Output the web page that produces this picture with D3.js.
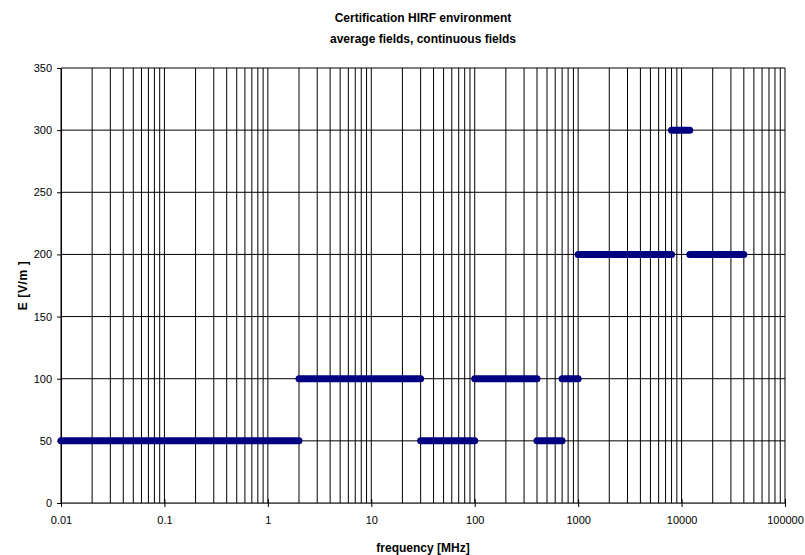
<!DOCTYPE html>
<html>
<head>
<meta charset="utf-8">
<script src="https://cdn.jsdelivr.net/npm/d3@7"></script>
<style>
  body { margin: 0; background: #fff; }
  text { font-family: "Liberation Sans", Arial, sans-serif; }
</style>
</head>
<body>
<div id="chart"></div>
<script>
// HIRF field levels: each band runs from fStart to fEnd (MHz) at level E (V/m)
const fStart = [0.01, 2, 30, 100, 400, 700, 1000, 8000, 12000];
const fEnd   = [2, 30, 100, 400, 700, 1000, 8000, 12000, 40000];
const fieldE = [50, 100, 50, 100, 50, 100, 200, 300, 200];

const xTicks = [0.01, 0.1, 1, 10, 100, 1000, 10000, 100000];
const yTicks = [0, 50, 100, 150, 200, 250, 300, 350];

const drawChart = (element) => {
    const width = 805, height = 555;
    const margin = {top: 68, right: 20, bottom: 52, left: 61};

    const svg = d3.select(element).append("svg")
        .attr("width", width)
        .attr("height", height);

    const x = d3.scaleLog().domain([0.01, 100000]).range([margin.left, 785]);
    const y = d3.scaleLinear().domain([0, 350]).range([503, margin.top]);

    // vertical grid at every 1..9 x decade
    const minor = [];
    for (let e = -2; e < 5; e++) {
        for (let k = 1; k < 10; k++) minor.push(k * Math.pow(10, e));
    }
    minor.push(100000);

    svg.append("g").selectAll("line").data(minor).join("line")
        .attr("x1", d => x(d)).attr("x2", d => x(d))
        .attr("y1", y(350)).attr("y2", y(0))
        .attr("stroke", "#000").attr("stroke-width", 1);

    svg.append("g").selectAll("line").data(yTicks).join("line")
        .attr("x1", x(0.01)).attr("x2", x(100000))
        .attr("y1", d => y(d)).attr("y2", d => y(d))
        .attr("stroke", "#000").attr("stroke-width", 1);

    // axes
    svg.append("g")
        .attr("transform", `translate(0,${y(0)})`)
        .call(d3.axisBottom(x).tickValues(xTicks).tickFormat(d => String(d)).tickSizeInner(4).tickSizeOuter(0).tickPadding(9))
        .call(g => g.select(".domain").attr("stroke", "#555"))
        .call(g => g.selectAll(".tick line").attr("y1", -4))
        .call(g => g.selectAll("text").attr("font-size", 11).attr("fill", "#000")
            .attr("font-family", "'Liberation Sans', Arial, sans-serif"));

    svg.append("g")
        .attr("transform", `translate(${x(0.01)},0)`)
        .call(d3.axisLeft(y).tickValues(yTicks).tickSizeInner(4).tickSizeOuter(0).tickPadding(5))
        .call(g => g.select(".domain").attr("stroke", "#000"))
        .call(g => g.selectAll("text").attr("font-size", 11).attr("fill", "#000")
            .attr("font-family", "'Liberation Sans', Arial, sans-serif"));

    // bands
    svg.append("g").selectAll("line").data(fieldE).join("line")
        .attr("x1", (d, i) => x(fStart[i]))
        .attr("x2", (d, i) => x(fEnd[i]))
        .attr("y1", d => y(d)).attr("y2", d => y(d))
        .attr("stroke", "#000080")
        .attr("stroke-width", 7)
        .attr("stroke-linecap", "round");

    // titles
    const cx = (x(0.01) + x(100000)) / 2;
    svg.append("text").attr("x", cx).attr("y", 22)
        .attr("text-anchor", "middle").attr("font-size", 12).attr("font-weight", "bold")
        .text("Certification HIRF environment");
    svg.append("text").attr("x", cx).attr("y", 43)
        .attr("text-anchor", "middle").attr("font-size", 12).attr("font-weight", "bold")
        .text("average fields, continuous fields");
    svg.append("text").attr("x", cx).attr("y", 552)
        .attr("text-anchor", "middle").attr("font-size", 12).attr("font-weight", "bold")
        .text("frequency [MHz]");
    svg.append("text")
        .attr("transform", `translate(27,${(y(0) + y(350)) / 2}) rotate(-90)`)
        .attr("text-anchor", "middle").attr("font-size", 12).attr("font-weight", "bold")
        .attr("letter-spacing", 0.6)
        .text("E [V/m ]");
};

drawChart(document.getElementById("chart"));
</script>
</body>
</html>
